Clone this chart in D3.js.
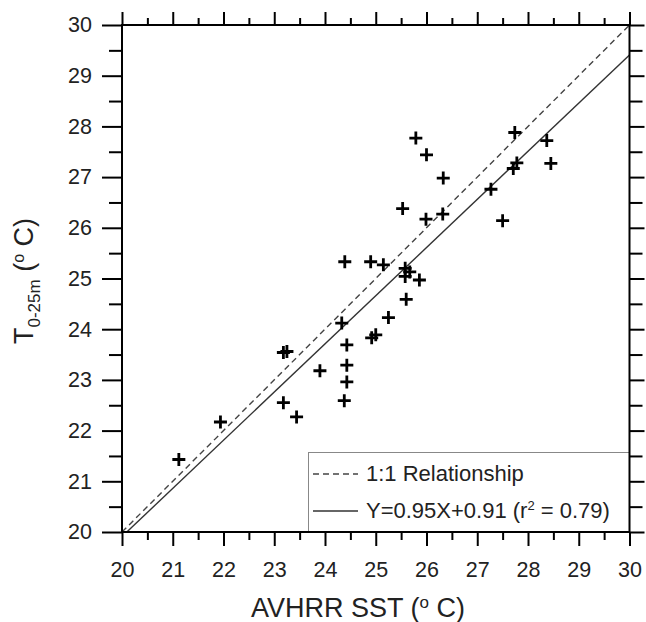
<!DOCTYPE html>
<html><head><meta charset="utf-8">
<script src="https://cdn.jsdelivr.net/npm/d3@7"></script>
<style>body{margin:0;background:#fff;} svg{display:block;font-family:"Liberation Sans",Arial,sans-serif;}</style>
</head><body>
<svg id="chart" width="646" height="622"></svg>
<script>
// Data
const sstValues = [21.12,21.94,23.18,23.25,23.18,23.44,23.90,24.39,24.90,24.33,24.43,24.43,24.43,24.38,24.92,25.00,25.53,25.99,26.32,27.50,25.15,25.58,25.67,25.58,25.86,25.60,25.25,25.79,26.00,26.33,27.74,28.37,27.78,27.71,28.45,27.27];
const tValues   = [21.43,22.17,23.54,23.56,22.55,22.27,23.18,25.33,25.33,24.12,23.69,23.29,22.96,22.59,23.83,23.89,26.38,26.17,26.27,26.14,25.27,25.20,25.13,25.04,24.97,24.59,24.23,27.77,27.44,26.98,27.88,27.72,27.28,27.17,27.27,26.76];
const majorTicks = [20,21,22,23,24,25,26,27,28,29,30];
const minorTicks = [20.5,21.5,22.5,23.5,24.5,25.5,26.5,27.5,28.5,29.5];
const fitSlope = 0.95, fitIntercept = 0.91;
const legendLabels = ["1:1 Relationship", "Y=0.95X+0.91 (r", "2", " = 0.79)"];

const svg = d3.select("#chart");
const L = 122, T = 25, R = 629.5, B = 532;
const x = d3.scaleLinear().domain([20,30]).range([L,R]);
const y = d3.scaleLinear().domain([20,30]).range([B,T]);

function styleAxis(g){
  g.select(".domain").remove();
  g.selectAll(".tick line").attr("stroke","#000").attr("stroke-width",2);
  g.selectAll(".tick text").attr("fill","#222").attr("font-size",21.5).attr("font-family","Liberation Sans, Arial, sans-serif");
}
// bottom
svg.append("g").attr("transform",`translate(0,${B})`).call(d3.axisBottom(x).tickValues(majorTicks).tickSize(14).tickPadding(16).tickFormat(d3.format("d"))).call(styleAxis);
svg.append("g").attr("transform",`translate(0,${B})`).call(d3.axisBottom(x).tickValues(minorTicks).tickSize(8).tickFormat("")).call(styleAxis);
// top
svg.append("g").attr("transform",`translate(0,${T})`).call(d3.axisTop(x).tickValues(majorTicks).tickSize(13).tickFormat("")).call(styleAxis);
svg.append("g").attr("transform",`translate(0,${T})`).call(d3.axisTop(x).tickValues(minorTicks).tickSize(7).tickFormat("")).call(styleAxis);
// left
svg.append("g").attr("transform",`translate(${L},0)`).call(d3.axisLeft(y).tickValues(majorTicks).tickSize(20).tickPadding(10).tickFormat(d3.format("d"))).call(styleAxis);
svg.append("g").attr("transform",`translate(${L},0)`).call(d3.axisLeft(y).tickValues(minorTicks).tickSize(13).tickFormat("")).call(styleAxis);
// right
svg.append("g").attr("transform",`translate(${R},0)`).call(d3.axisRight(y).tickValues(majorTicks).tickSize(15).tickFormat("")).call(styleAxis);
svg.append("g").attr("transform",`translate(${R},0)`).call(d3.axisRight(y).tickValues(minorTicks).tickSize(13).tickFormat("")).call(styleAxis);

// clip
svg.append("clipPath").attr("id","clip").append("rect").attr("x",L).attr("y",T).attr("width",R-L).attr("height",B-T);
const plot = svg.append("g").attr("clip-path","url(#clip)");

// 1:1 line
plot.append("line").attr("x1",x(20)).attr("y1",y(20)).attr("x2",x(30)).attr("y2",y(30))
  .attr("stroke","#444").attr("stroke-width",1.4).attr("stroke-dasharray","6,4");
// fit line
plot.append("line").attr("x1",x(20)).attr("y1",y(fitSlope*20+fitIntercept)).attr("x2",x(30)).attr("y2",y(fitSlope*30+fitIntercept))
  .attr("stroke","#333").attr("stroke-width",1.4);

// points
const pts = sstValues.map((v,i)=>[v,tValues[i]]);
const s = 6.5;
plot.selectAll("path.pt").data(pts).enter().append("path").attr("class","pt")
  .attr("d",d=>`M${x(d[0])-s},${y(d[1])}H${x(d[0])+s}M${x(d[0])},${y(d[1])-s}V${y(d[1])+s}`)
  .attr("stroke","#000").attr("stroke-width",2.8).attr("fill","none");

// legend
const lg = svg.append("g");
lg.append("rect").attr("x",308.5).attr("y",452.5).attr("width",R-308.5).attr("height",B-452.5)
  .attr("fill","#fff").attr("stroke","#888").attr("stroke-width",1);
lg.append("line").attr("x1",313).attr("x2",358).attr("y1",474).attr("y2",474).attr("stroke","#444").attr("stroke-width",1.4).attr("stroke-dasharray","6,4");
lg.append("line").attr("x1",313).attr("x2",358).attr("y1",511).attr("y2",511).attr("stroke","#333").attr("stroke-width",1.4);
lg.append("text").attr("x",366).attr("y",481).attr("font-size",22).attr("fill","#222").text(legendLabels[0]);
const t2 = lg.append("text").attr("x",366).attr("y",518).attr("font-size",22).attr("fill","#222");
t2.append("tspan").text(legendLabels[1]);
t2.append("tspan").attr("font-size",13).attr("dy",-8).text(legendLabels[2]);
t2.append("tspan").attr("dy",8).text(legendLabels[3]);

// axis titles
const xt = svg.append("text").attr("x",358).attr("y",617).attr("text-anchor","middle").attr("font-size",27).attr("fill","#222");
xt.append("tspan").text("AVHRR SST (");
xt.append("tspan").attr("font-size",17).attr("dy",-9).text("o");
xt.append("tspan").attr("dy",9).text(" C)");

const yt = svg.append("text").attr("transform","translate(33,281) rotate(-90)").attr("text-anchor","middle").attr("font-size",27).attr("fill","#222");
yt.append("tspan").text("T");
yt.append("tspan").attr("font-size",17).attr("dy",7).text("0-25m");
yt.append("tspan").attr("dy",-7).text(" (");
yt.append("tspan").attr("font-size",16).attr("dy",-9).text("o");
yt.append("tspan").attr("dy",9).text(" C)");

// frame
svg.append("rect").attr("x",L).attr("y",T).attr("width",R-L).attr("height",B-T).attr("fill","none").attr("stroke","#000").attr("stroke-width",2);
</script>
</body></html>
